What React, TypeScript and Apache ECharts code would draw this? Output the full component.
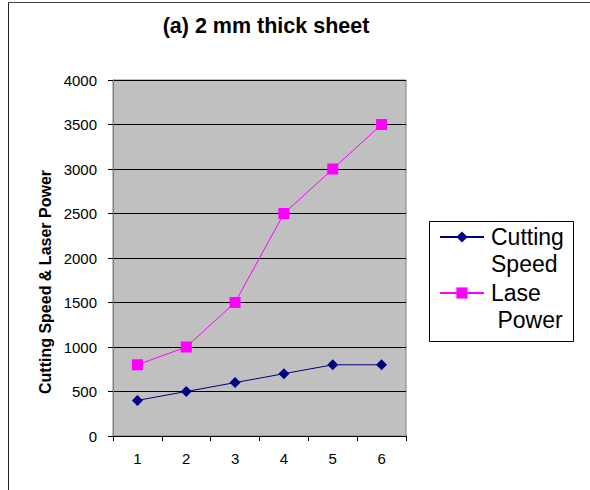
import React, { useEffect, useRef } from "react";
import * as echarts from "echarts";

// Sample index along the x axis
const categories = ["1", "2", "3", "4", "5", "6"];
// Cutting speed for the 2 mm sheet
const cuttingSpeed = [400, 500, 600, 700, 800, 800];
// Laser power for the 2 mm sheet
const laserPower = [800, 1000, 1500, 2500, 3000, 3500];

const FONT = "Arial, 'Liberation Sans', sans-serif";

export default function App() {
  const ref = useRef<HTMLDivElement>(null);

  useEffect(() => {
    if (!ref.current) return;
    const chart = echarts.init(ref.current, undefined, { renderer: "svg" });
    chart.setOption({
      animation: false,
      backgroundColor: "#ffffff",
      title: {
        text: "(a) 2 mm thick sheet",
        left: 266,
        top: 15,
        padding: 0,
        textAlign: "center",
        textStyle: { fontFamily: FONT, fontSize: 21.5, fontWeight: "bold", color: "#000" },
      },
      grid: {
        left: 113,
        top: 80,
        width: 293,
        height: 356,
        show: true,
        backgroundColor: "#C0C0C0",
        borderColor: "#808080",
        borderWidth: 1,
      },
      legend: {
        orient: "vertical",
        left: 439,
        top: 196.5,
        padding: 0,
        itemGap: -25,
        itemWidth: 44,
        itemHeight: 14,
        z: 10,
        // leading blank line keeps the marker level with the first text line
        formatter: (name: string) => "\n" + name,
        textStyle: {
          fontFamily: FONT,
          fontSize: 23,
          lineHeight: 27,
          color: "#000",
          padding: [0, 0, 0, 2],
        },
        data: ["Cutting\nSpeed", "Lase\n Power"],
      },
      xAxis: {
        type: "category",
        data: categories,
        boundaryGap: true,
        axisLine: { show: true, lineStyle: { color: "#000", width: 1 } },
        axisTick: { show: true, length: 5, alignWithLabel: false, lineStyle: { color: "#000" } },
        axisLabel: { fontFamily: FONT, fontSize: 15, color: "#000", margin: 15 },
        splitLine: { show: false },
      },
      yAxis: {
        type: "value",
        min: 0,
        max: 4000,
        interval: 500,
        axisLine: { show: true, lineStyle: { color: "#808080", width: 1 } },
        axisTick: { show: true, length: 5, lineStyle: { color: "#000" } },
        axisLabel: {
          fontFamily: FONT,
          fontSize: 15,
          color: "#000",
          margin: 16,
          formatter: (v: number) => String(v),
        },
        splitLine: { show: true, lineStyle: { color: "#000", width: 1 } },
      },
      graphic: [
        {
          type: "line",
          shape: { x1: 8.5, y1: 2.5, x2: 590, y2: 2.5 },
          style: { stroke: "#404040", lineWidth: 1 },
        },
        {
          type: "line",
          shape: { x1: 8.5, y1: 2.5, x2: 8.5, y2: 490 },
          style: { stroke: "#202020", lineWidth: 1 },
        },
        {
          type: "rect",
          z: 0,
          shape: { x: 429.5, y: 221.5, width: 144, height: 120 },
          style: { fill: "#ffffff", stroke: "#000", lineWidth: 1 },
        },
        {
          type: "text",
          x: 45,
          y: 282,
          rotation: Math.PI / 2,
          style: {
            text: "Cutting Speed & Laser Power",
            fontFamily: FONT,
            fontSize: 16,
            fontWeight: "bold",
            fill: "#000",
            align: "center",
            verticalAlign: "middle",
          },
        },
      ],
      series: [
        {
          name: "Cutting\nSpeed",
          type: "line",
          data: cuttingSpeed,
          symbol: "diamond",
          symbolSize: 11,
          color: "#000080",
          lineStyle: { color: "#000080", width: 1 },
          itemStyle: { color: "#000080" },
        },
        {
          name: "Lase\n Power",
          type: "line",
          data: laserPower,
          symbol: "rect",
          symbolSize: 11,
          color: "#FF00FF",
          lineStyle: { color: "#FF00FF", width: 1 },
          itemStyle: { color: "#FF00FF" },
        },
      ],
    });
    return () => chart.dispose();
  }, []);

  return (
    <div
      ref={ref}
      style={{ position: "absolute", left: 0, top: 0, width: 590, height: 490 }}
    />
  );
}
